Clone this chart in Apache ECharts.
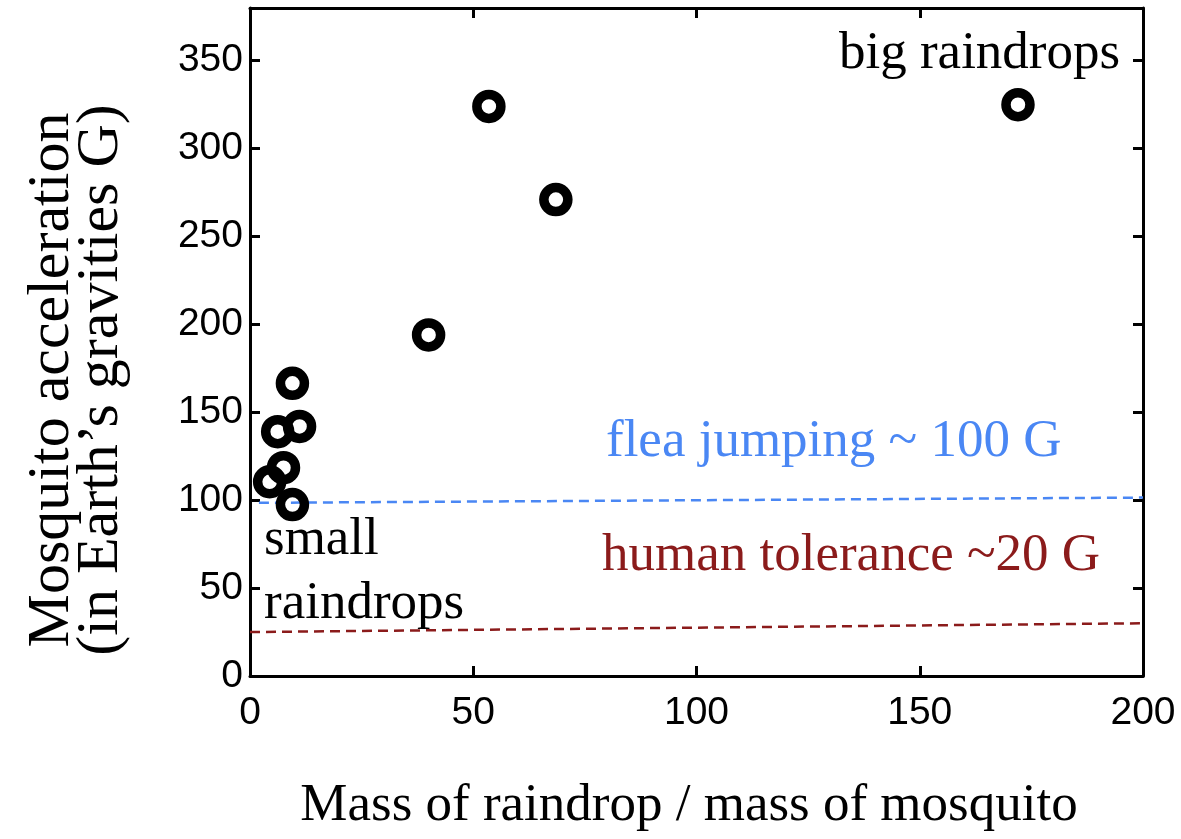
<!DOCTYPE html>
<html>
<head>
<meta charset="utf-8">
<script src="https://cdn.jsdelivr.net/npm/echarts@6/dist/echarts.min.js"></script>
<style>
  html, body { margin: 0; padding: 0; background: #ffffff; }
  #chart { width: 1181px; height: 839px; }
</style>
</head>
<body>
<div id="chart"></div>
<script>
// Raindrop impacts: mass ratio vs. peak mosquito acceleration (G)
const massRatio    = [172, 53.5, 68.5, 40, 9.5, 6.2, 11.1, 7.5, 4.4, 9.5];
const acceleration = [325, 324, 271, 194, 166.5, 139, 142, 118.5, 110.5, 97.5];

// Reference levels (dashed guide lines), as [x, y] end points
const fleaLine  = [[2, 98.5], [200, 101.5]];
const humanLine = [[0, 25], [200, 30]];

// Axis ranges
const xRange = { min: 0, max: 200, step: 50 };
const yRange = { min: 0, max: 380, step: 50 };

const serif = "'Liberation Serif', 'Times New Roman', serif";
const sans  = "'Liberation Sans', Arial, Helvetica, sans-serif";
const blue = '#4a87f4';
const darkRed = '#8b1b1b';

const points = massRatio.map((m, i) => [m, acceleration[i]]);

function boxAxis(range, position, withLabels, margin) {
  return {
    type: 'value',
    position: position,
    min: range.min,
    max: range.max,
    interval: range.step,
    axisLine: { show: true, onZero: false, lineStyle: { color: '#000', width: 3 } },
    axisTick: { show: true, inside: true, length: 10, lineStyle: { color: '#000', width: 3 } },
    axisLabel: withLabels ? {
      show: true, color: '#000', fontFamily: sans, fontSize: 39, margin: margin,
      showMaxLabel: range.max % range.step === 0
    } : { show: false },
    splitLine: { show: false }
  };
}

const chart = echarts.init(document.getElementById('chart'), null, { renderer: 'canvas' });

const annot = `53px ${serif}`;

chart.setOption({
  animation: false,
  backgroundColor: '#ffffff',
  grid: { left: 250, right: 38, top: 8, bottom: 163 },
  xAxis: [boxAxis(xRange, 'bottom', true, 18), boxAxis(xRange, 'top', false, 0)],
  yAxis: [boxAxis(yRange, 'left', true, 7), boxAxis(yRange, 'right', false, 0)],
  series: [
    {
      type: 'line', data: fleaLine, showSymbol: false, silent: true,
      lineStyle: { color: blue, width: 2.5, type: [10, 6] }, z: 1
    },
    {
      type: 'line', data: humanLine, showSymbol: false, silent: true,
      lineStyle: { color: darkRed, width: 2.5, type: [10, 6] }, z: 1
    },
    {
      type: 'scatter', data: points, symbol: 'circle', symbolSize: 24,
      itemStyle: { color: 'rgba(0,0,0,0)', borderColor: '#000', borderWidth: 9.5, opacity: 1 },
      z: 3
    }
  ],
  graphic: [
    { type: 'text', x: 52, y: 380, rotation: Math.PI / 2,
      style: { text: 'Mosquito acceleration', font: `60px ${serif}`, fill: '#000', align: 'center', verticalAlign: 'middle' } },
    { type: 'text', x: 101, y: 380, rotation: Math.PI / 2,
      style: { text: '(in Earth\u2019s gravities G)', font: `60px ${serif}`, fill: '#000', align: 'center', verticalAlign: 'middle' } },
    { type: 'text', x: 689, y: 806,
      style: { text: 'Mass of raindrop / mass of mosquito', font: annot, fill: '#000', align: 'center', verticalAlign: 'middle' } },
    { type: 'text', x: 839, y: 54,
      style: { text: 'big raindrops', font: annot, fill: '#000', align: 'left', verticalAlign: 'middle' } },
    { type: 'text', x: 264, y: 540,
      style: { text: 'small', font: annot, fill: '#000', align: 'left', verticalAlign: 'middle' } },
    { type: 'text', x: 264, y: 604,
      style: { text: 'raindrops', font: annot, fill: '#000', align: 'left', verticalAlign: 'middle' } },
    { type: 'text', x: 606, y: 442,
      style: { text: 'flea jumping ~ 100 G', font: annot, fill: blue, align: 'left', verticalAlign: 'middle' } },
    { type: 'text', x: 602, y: 556,
      style: { text: 'human tolerance ~20 G', font: annot, fill: darkRed, align: 'left', verticalAlign: 'middle' } }
  ]
});
</script>
</body>
</html>
